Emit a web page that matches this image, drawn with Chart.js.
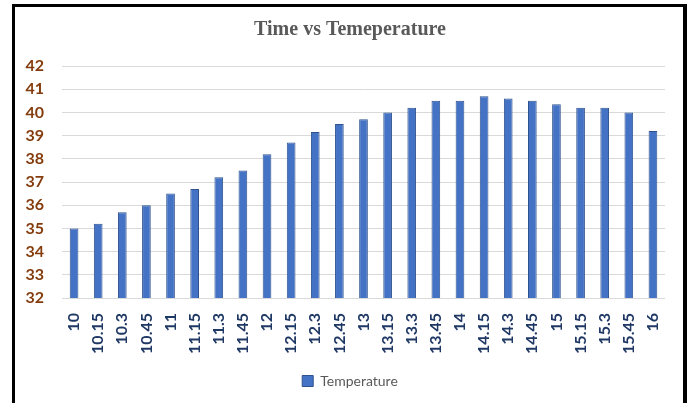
<!DOCTYPE html>
<html>
<head>
<meta charset="utf-8">
<script src="https://cdn.jsdelivr.net/npm/chart.js@4.4.1/dist/chart.umd.min.js"></script>
<style>
  html, body { margin: 0; padding: 0; background: #fff; }
  #frame {
    position: absolute; left: 12px; top: 4px;
    width: 668px; height: 430px;
    border: 3px solid #000; border-right-width: 4px;
  }
  #wrap { position: absolute; left: 0; top: 0; width: 688px; height: 403px; }
</style>
</head>
<body>
<div id="frame"></div>
<div id="wrap"><canvas id="tempChart" width="688" height="403"></canvas></div>
<script>
const times = ["10", "10.15", "10.3", "10.45", "11", "11.15", "11.3", "11.45", "12", "12.15",
  "12.3", "12.45", "13", "13.15", "13.3", "13.45", "14", "14.15", "14.3", "14.45",
  "15", "15.15", "15.3", "15.45", "16"];
const temperature = [35, 35.2, 35.7, 36, 36.5, 36.7, 37.2, 37.5, 38.2, 38.7,
  39.15, 39.5, 39.7, 40, 40.2, 40.5, 40.5, 40.7, 40.6, 40.5,
  40.35, 40.2, 40.2, 40, 39.2];
const yMin = 32;
const yMax = 42;

const ctx = document.getElementById('tempChart').getContext('2d');
const tempChart = new Chart(ctx, {
    type: 'bar',
    data: {
        labels: times,
        datasets: [{
            label: 'Temperature',
            data: temperature,
            backgroundColor: '#4472C4',
            borderColor: '#2F528F',
            borderWidth: 1,
            categoryPercentage: 1,
            barPercentage: 0.36
        }]
    },
    options: {
        responsive: false,
        maintainAspectRatio: false,
        animation: false,
        layout: { padding: { left: 15, right: 3, top: 0, bottom: 5 } },
        plugins: {
            title: {
                display: true,
                text: 'Time vs Temeperature',
                font: { family: '"Liberation Serif", "DejaVu Serif", serif', size: 20, weight: 'bold' },
                color: '#595959',
                padding: { top: 18, bottom: 24 }
            },
            legend: {
                position: 'bottom',
                labels: {
                    boxWidth: 11,
                    boxHeight: 11,
                    padding: 10,
                    color: '#595959',
                    font: { family: 'Lato, "Open Sans", sans-serif', size: 14 }
                }
            },
            tooltip: { enabled: false }
        },
        scales: {
            x: {
                grid: { display: false },
                border: { display: false },
                ticks: {
                    minRotation: 90,
                    maxRotation: 90,
                    autoSkip: false,
                    padding: 7,
                    color: '#1F3864',
                    font: { family: 'Lato, "Open Sans", sans-serif', size: 16, weight: 'bold' }
                },
                afterFit: (scale) => { scale.height = 66; }
            },
            y: {
                min: yMin,
                max: yMax,
                grid: { color: '#D9D9D9', lineWidth: 1, drawTicks: false },
                border: { display: false },
                ticks: {
                    stepSize: 1,
                    padding: 18,
                    color: '#843C0C',
                    font: { family: 'Lato, "Open Sans", sans-serif', size: 16, weight: 'bold' }
                },
                afterFit: (scale) => { scale.width = 47; }
            },
            // empty right-hand spacer so the title and legend centre like the original
            yRight: {
                position: 'right',
                display: true,
                grid: { display: false, drawTicks: false },
                border: { display: false },
                ticks: { display: false },
                afterFit: (scale) => { scale.width = 20; }
            }
        }
    }
});
</script>
</body>
</html>
